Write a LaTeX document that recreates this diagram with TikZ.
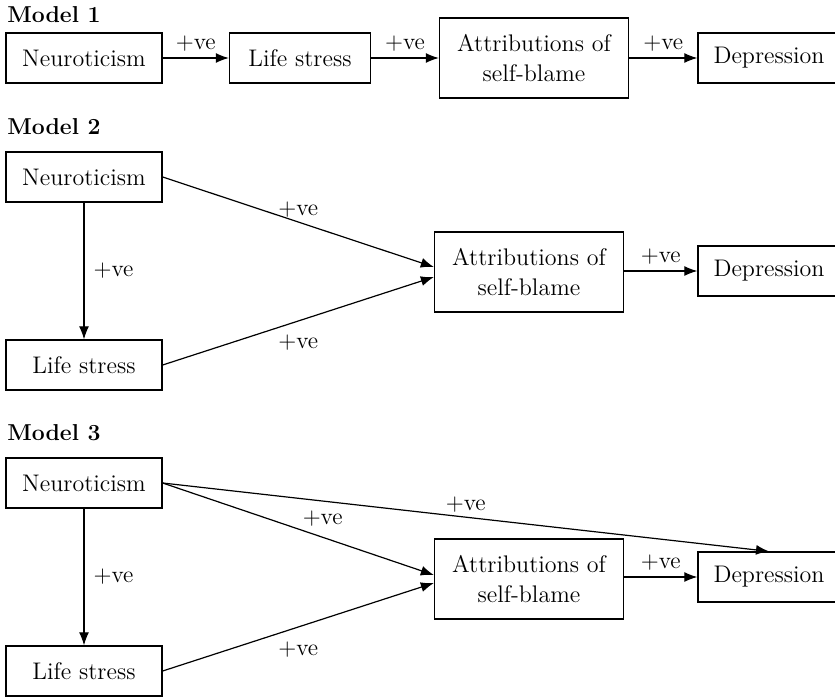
\documentclass[tikz,border=0pt]{standalone}
\usetikzlibrary{positioning, arrows.meta}

\tikzset{
  box/.style={draw, line width=0.65pt, minimum height=25pt, inner sep=0pt,
    align=center, font=\fontsize{12}{15}\selectfont},
  widebox/.style={box, minimum width=94.5pt, minimum height=40pt},
  arr/.style={-{Latex[length=6.5pt,width=5pt]}, line width=0.6pt},
  lbl/.style={font=\fontsize{11.8}{13}\selectfont, inner sep=2pt},
  title/.style={anchor=base west, inner sep=0pt, font=\fontsize{11.5}{13}\selectfont\bfseries}
}

\begin{document}
\begin{tikzpicture}[x=0.5pt, y=-0.5pt]
    % the frame
    \useasboundingbox (0,0) rectangle (835,696);
    \clip (0,0) rectangle (835,696);

    % Model 1
    \node[title] (t1) at (7,23) {Model 1};
    \node[box, minimum width=78pt]   (neur1) at (84,58)  {Neuroticism};
    \node[box, minimum width=70.5pt] (life1) at (300,58) {Life stress};
    \node[widebox]                   (attr1) at (534,58) {Attributions of\\self-blame};
    \node[box, minimum width=71pt]   (depr1) at (769,58) {Depression};

    \draw[arr] (neur1) -- node[lbl, above=1pt] {+ve} (life1);
    \draw[arr] (life1) -- node[lbl, above=1pt] {+ve} (attr1);
    \draw[arr] (attr1) -- node[lbl, above=1pt] {+ve} (depr1);

    % Model 2
    \node[title] (t2) at (7,134) {Model 2};
    \node[box, minimum width=78pt] (neur2) at (84,177)  {Neuroticism};
    \node[box, minimum width=78pt] (life2) at (84,365)  {Life stress};
    \node[widebox]                 (attr2) at (529,272) {Attributions of\\self-blame};
    \node[box, minimum width=71pt] (depr2) at (769,271) {Depression};

    \draw[arr] (neur2) -- node[lbl, right=2.5pt] {+ve} (life2);
    \draw[arr] (neur2.east) -- node[lbl, above] {+ve} ([yshift=2.5pt]attr2.west);
    \draw[arr] (life2.east) -- node[lbl, below=4.5pt] {+ve} ([yshift=-2.5pt]attr2.west);
    \draw[arr] (attr2.east |- depr2) -- node[lbl, above=1pt] {+ve} (depr2.west);

    % Model 3
    \node[title] (t3) at (7,440) {Model 3};
    \node[box, minimum width=78pt] (neur3) at (84,483)  {Neuroticism};
    \node[box, minimum width=78pt] (life3) at (84,671)  {Life stress};
    \node[widebox]                 (attr3) at (529,579) {Attributions of\\self-blame};
    \node[box, minimum width=71pt] (depr3) at (769,577) {Depression};

    \draw[arr] (neur3) -- node[lbl, right=2.5pt] {+ve} (life3);
    \draw[arr] (neur3.east) -- node[lbl, above=3pt, pos=0.59] {+ve} ([yshift=2pt]attr3.west);
    \draw[arr] (neur3.east) -- node[lbl, above] {+ve} (depr3.north);
    \draw[arr] (life3.east) -- node[lbl, below=5pt] {+ve} ([yshift=-2pt]attr3.west);
    \draw[arr] (attr3.east |- depr3) -- node[lbl, above=1pt] {+ve} (depr3.west);
\end{tikzpicture}
\end{document}
